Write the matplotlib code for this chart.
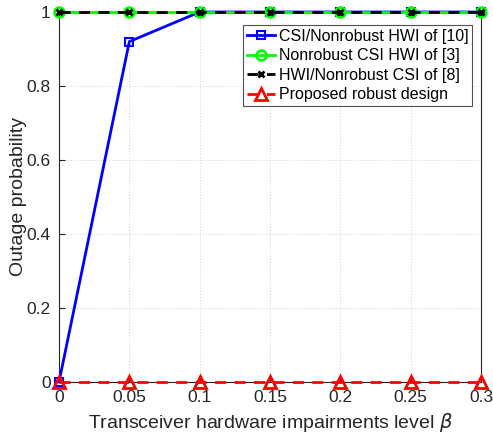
import matplotlib
matplotlib.use("Agg")
import matplotlib.pyplot as plt

plt.rcParams['font.family'] = ['Liberation Sans', 'DejaVu Sans']
plt.rcParams['mathtext.fontset'] = 'dejavusans'

beta = [0, 0.05, 0.1, 0.15, 0.2, 0.25, 0.3]
csi_nonrobust_hwi = [0, 0.92, 1, 1, 1, 1, 1]
nonrobust_csi_hwi = [1, 1, 1, 1, 1, 1, 1]
hwi_nonrobust_csi = [1, 1, 1, 1, 1, 1, 1]
proposed = [0, 0, 0, 0, 0, 0, 0]
xticks = [0, 0.05, 0.1, 0.15, 0.2, 0.25, 0.3]
xticklabels = ['0', '0.05', '0.1', '0.15', '0.2', '0.25', '0.3']
yticks = [0, 0.2, 0.4, 0.6, 0.8, 1]
yticklabels = ['0', '0.2', '0.4', '0.6', '0.8', '1']

fig = plt.figure(figsize=(4.93, 4.4), dpi=100)
ax = fig.add_axes([59/493, 1-382/440, (481-59)/493, (382-12)/440])

ax.plot(beta, csi_nonrobust_hwi, '-', color='#0000ff', lw=2, marker='s', ms=6,
        mfc='none', mew=1.5, label='CSI/Nonrobust HWI of [10]', clip_on=False, zorder=3)
ax.plot(beta, nonrobust_csi_hwi, '-', color='#00ff00', lw=2, marker='o', ms=7,
        mfc='none', mew=2, label='Nonrobust CSI HWI of [3]', clip_on=False, zorder=4)
ax.plot(beta, hwi_nonrobust_csi, '--', color='black', lw=2, marker='x', ms=5,
        mew=2, label='HWI/Nonrobust CSI of [8]', clip_on=False, zorder=5,
        dashes=(4, 3))
ax.plot(beta, proposed, '--', color='#ff0000', lw=2, marker='^', ms=9,
        mfc='none', mew=2, label='Proposed robust design', clip_on=False, zorder=6,
        dashes=(4, 3))

ax.set_xlim(0, 0.3)
ax.set_ylim(0, 1)
ax.set_xticks(xticks)
ax.set_xticklabels(xticklabels)
ax.set_yticks(yticks)
ax.set_yticklabels(yticklabels)
ax.tick_params(direction='in', labelsize=12.5, colors='#262626', length=4, pad=6)
ax.grid(True, linestyle=(0, (1, 2)), color='#d0d0d0', lw=0.7)
for s in ax.spines.values():
    s.set_color('#262626')
    s.set_linewidth(0.8)

ax.set_xlabel(r'Transceiver hardware impairments level $\beta$', fontsize=14, color='#262626', labelpad=4)
ax.set_ylabel('Outage probability', fontsize=14, color='#262626', labelpad=0)

leg = ax.legend(loc='upper right', bbox_to_anchor=(0.979, 0.965), fontsize=11.5,
                frameon=True, fancybox=False, edgecolor='#262626',
                handlelength=1.8, borderpad=0.25, labelspacing=0.28, handletextpad=0.2,
                borderaxespad=0)
leg.get_frame().set_linewidth(0.8)

fig.savefig('out.png', dpi=100)
